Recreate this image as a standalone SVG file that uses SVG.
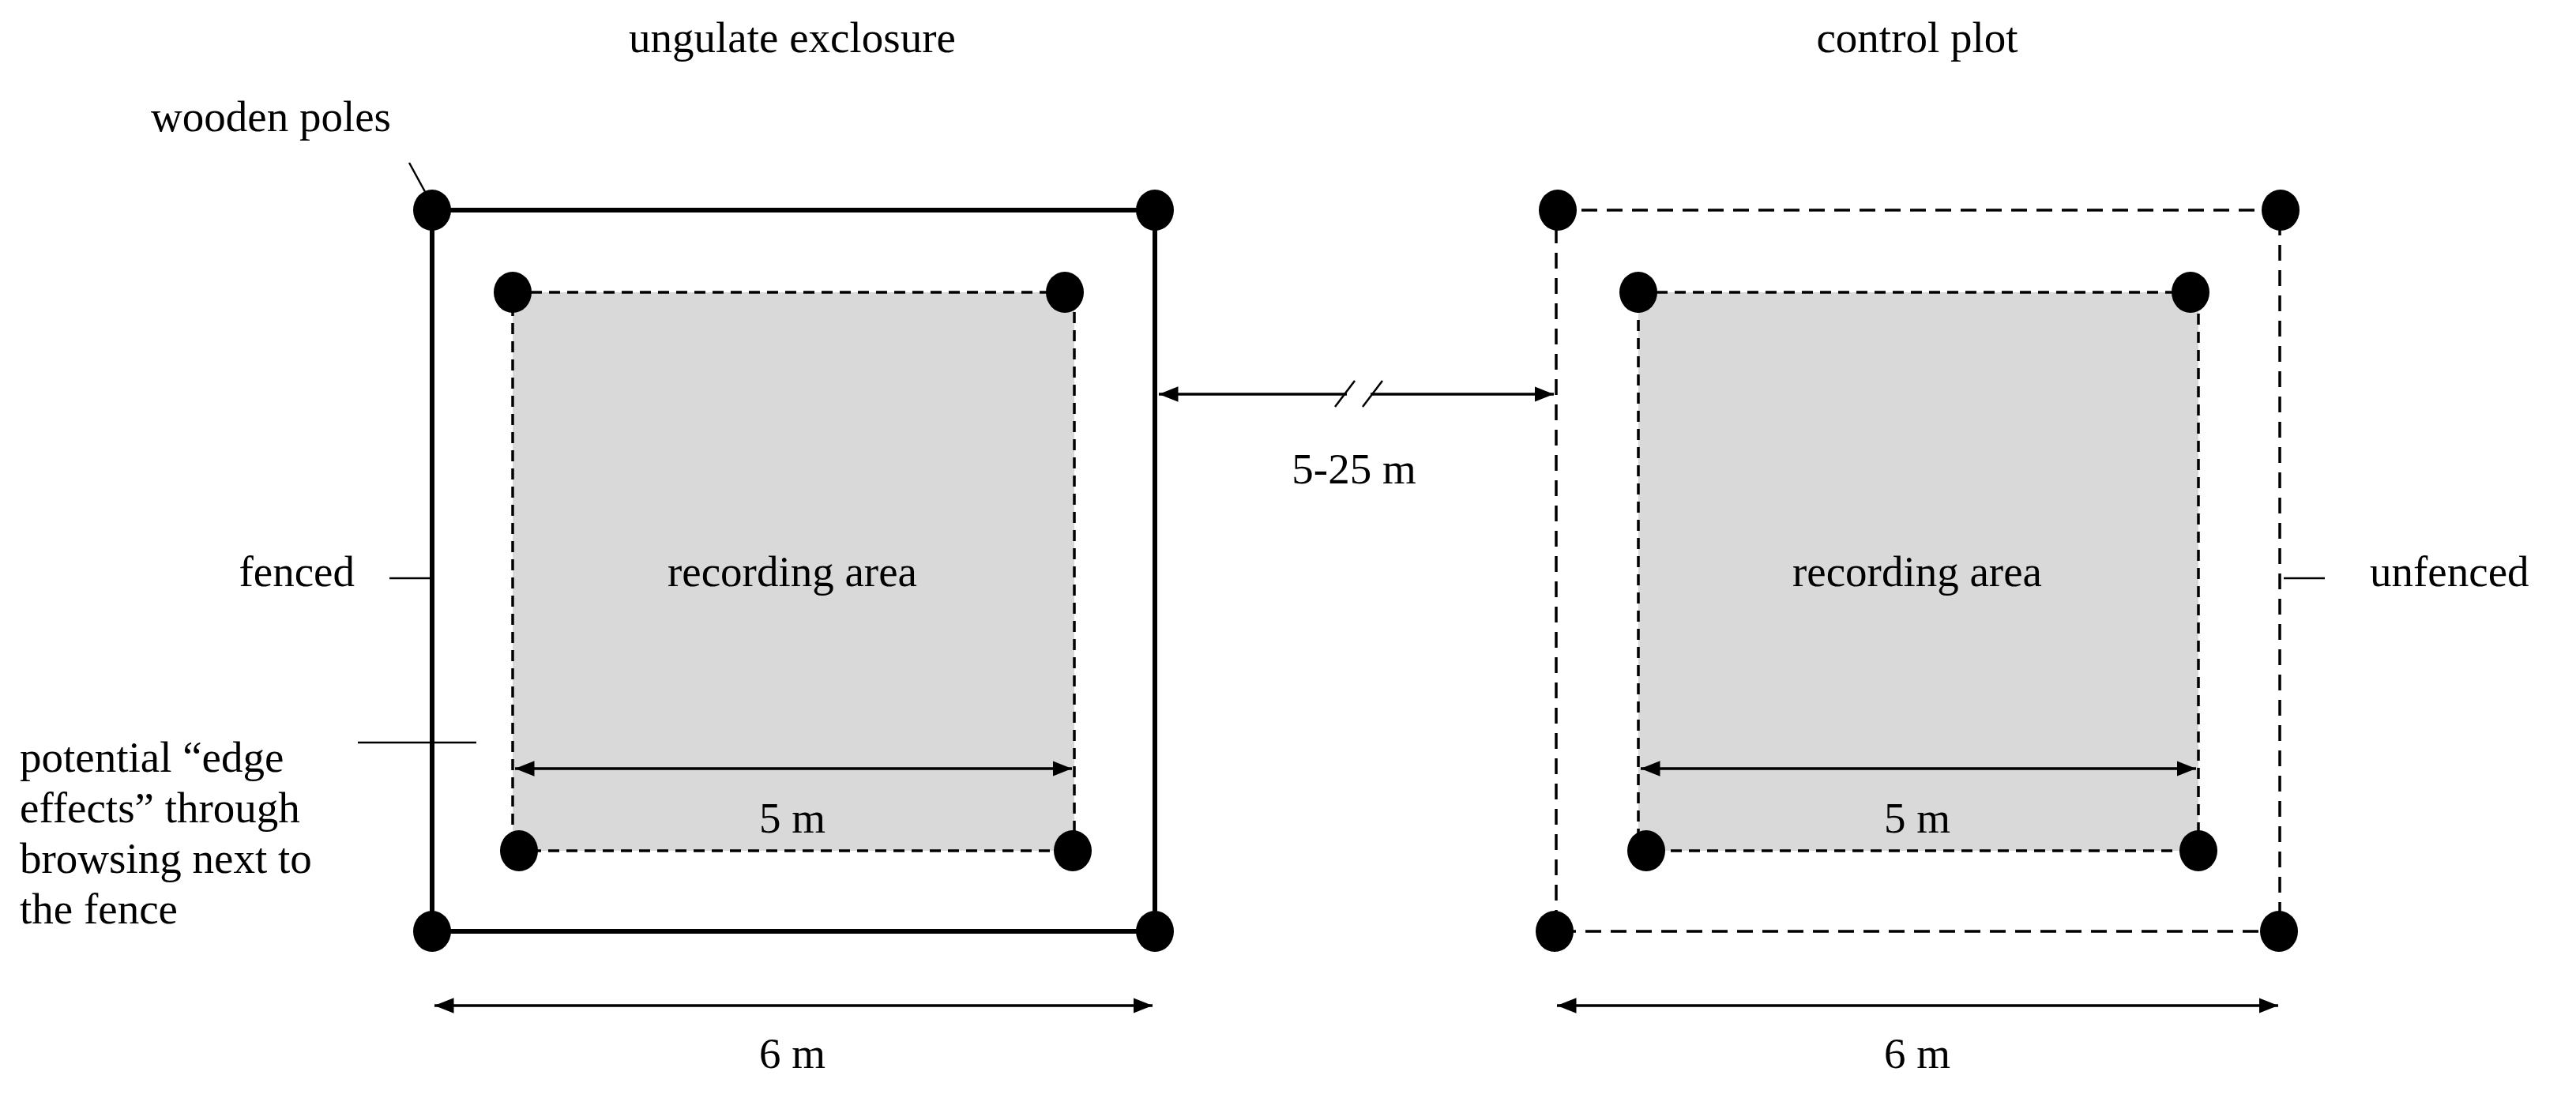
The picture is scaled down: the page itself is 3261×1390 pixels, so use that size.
<svg xmlns="http://www.w3.org/2000/svg" width="3261" height="1390" viewBox="0 0 3261 1390">
<style>
text{font-family:"Liberation Serif",serif;font-size:55px;fill:#000}
.c{text-anchor:middle}
.pole{fill:#000}
.area{fill:#d9d9d9;stroke:#000;stroke-width:3.5;stroke-dasharray:14 9}
.fence{fill:none;stroke:#000;stroke-width:6}
.open{fill:none;stroke:#000;stroke-width:3.5;stroke-dasharray:20 12}
.dim{stroke:#000;stroke-width:3.5;fill:none}
.lead{stroke:#000;stroke-width:2.5;fill:none}
</style>
<defs>
<marker id="a" viewBox="0 0 10 10" refX="10" refY="5" markerWidth="7" markerHeight="7" orient="auto-start-reverse" markerUnits="strokeWidth"><path d="M0,1 L10,5 L0,9 Z" fill="#000"/></marker>
</defs>
<text class="c" x="1003" y="66">ungulate exclosure</text>
<text class="c" x="2427" y="66">control plot</text>
<g id="exclosure">
<rect class="fence" x="547" y="266" width="915" height="913"/>
<rect class="area" x="649" y="370" width="711" height="707"/>
<text class="c" x="1003" y="742">recording area</text>
<ellipse class="pole" cx="547" cy="266" rx="24" ry="26"/>
<ellipse class="pole" cx="1462" cy="266" rx="24" ry="26"/>
<ellipse class="pole" cx="547" cy="1179" rx="24" ry="26"/>
<ellipse class="pole" cx="1462" cy="1179" rx="24" ry="26"/>
<ellipse class="pole" cx="649" cy="370" rx="24" ry="26"/>
<ellipse class="pole" cx="1348" cy="370" rx="24" ry="26"/>
<ellipse class="pole" cx="657" cy="1077" rx="24" ry="26"/>
<ellipse class="pole" cx="1358" cy="1077" rx="24" ry="26"/>
</g>
<g id="control">
<rect class="open" x="1970" y="266" width="916" height="913"/>
<rect class="area" x="2074" y="370" width="709" height="707"/>
<text class="c" x="2427" y="742">recording area</text>
<ellipse class="pole" cx="1972" cy="266" rx="24" ry="26"/>
<ellipse class="pole" cx="2887" cy="266" rx="24" ry="26"/>
<ellipse class="pole" cx="1968" cy="1179" rx="24" ry="26"/>
<ellipse class="pole" cx="2885" cy="1179" rx="24" ry="26"/>
<ellipse class="pole" cx="2074" cy="370" rx="24" ry="26"/>
<ellipse class="pole" cx="2773" cy="370" rx="24" ry="26"/>
<ellipse class="pole" cx="2084" cy="1077" rx="24" ry="26"/>
<ellipse class="pole" cx="2783" cy="1077" rx="24" ry="26"/>
</g>
<g id="labels">
<text x="191" y="166">wooden poles</text>
<text x="449" y="742" text-anchor="end">fenced</text>
<text x="3000" y="742">unfenced</text>
<text x="25" y="977">potential “edge</text>
<text x="25" y="1041">effects” through</text>
<text x="25" y="1105">browsing next to</text>
<text x="25" y="1169">the fence</text>
<text class="c" x="1003" y="1054">5 m</text>
<text class="c" x="2427" y="1054">5 m</text>
<text class="c" x="1003" y="1352">6 m</text>
<text class="c" x="2427" y="1352">6 m</text>
<text class="c" x="1714" y="612">5-25 m</text>
</g>
<g id="connectors">
<line class="lead" x1="518" y1="206" x2="542" y2="250"/>
<line class="lead" x1="493" y1="732" x2="547" y2="732"/>
<line class="lead" x1="2891" y1="732" x2="2943" y2="732"/>
<line class="lead" x1="453" y1="940" x2="603" y2="940"/>
<line class="dim" x1="652" y1="973" x2="1357" y2="973" marker-start="url(#a)" marker-end="url(#a)"/>
<line class="dim" x1="2077" y1="973" x2="2780" y2="973" marker-start="url(#a)" marker-end="url(#a)"/>
<line class="dim" x1="550" y1="1273" x2="1459" y2="1273" marker-start="url(#a)" marker-end="url(#a)"/>
<line class="dim" x1="1971" y1="1273" x2="2884" y2="1273" marker-start="url(#a)" marker-end="url(#a)"/>
<line class="dim" x1="1467" y1="499" x2="1705" y2="499" marker-start="url(#a)"/>
<line class="dim" x1="1735" y1="499" x2="1967" y2="499" marker-end="url(#a)"/>
<line class="lead" x1="1690" y1="515" x2="1715" y2="482"/>
<line class="lead" x1="1725" y1="515" x2="1750" y2="482"/>
</g>
</svg>
